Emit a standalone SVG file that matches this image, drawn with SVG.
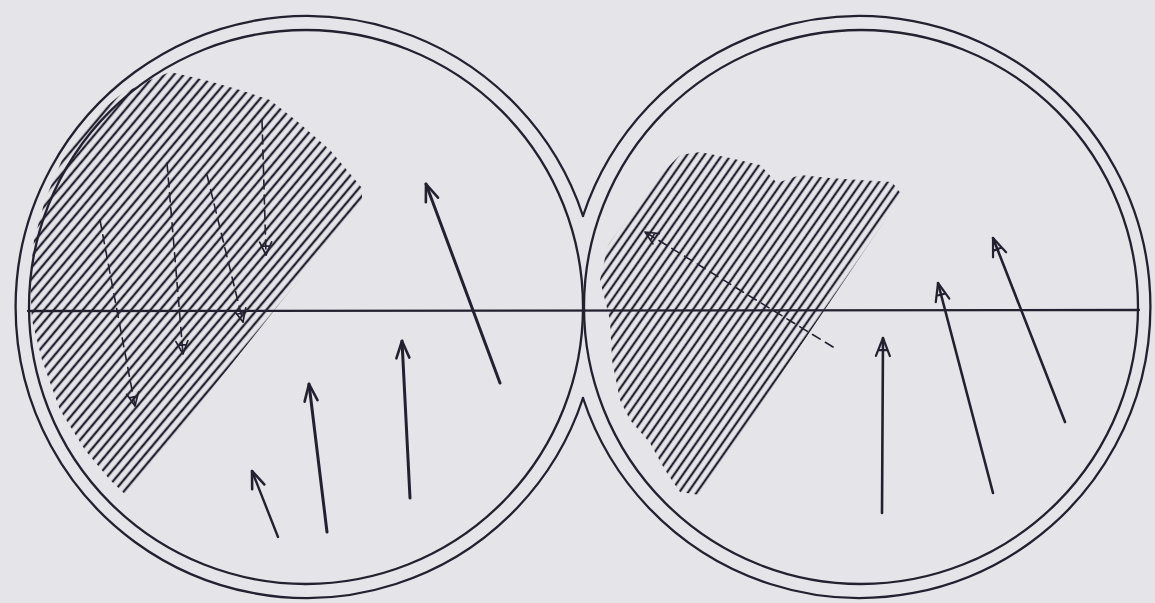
<svg xmlns="http://www.w3.org/2000/svg" width="1155" height="603" viewBox="0 0 1155 603">
<style>
.ink{stroke:#23212f;fill:none;stroke-linecap:round;stroke-linejoin:round}
.ring{stroke-width:2.3}
.ray{stroke-width:3}
.dash{stroke-width:1.6;stroke-dasharray:9 6}
</style>
<defs>
<pattern id="hatchL" patternUnits="userSpaceOnUse" x="0" y="0" width="1200" height="7.4" patternTransform="rotate(-50)">
<line x1="-10" y1="3.7" x2="1210" y2="3.7" stroke="#23212f" stroke-width="2.4"/>
</pattern>
<pattern id="hatchR" patternUnits="userSpaceOnUse" x="0" y="0" width="1200" height="7.2" patternTransform="rotate(-55)">
<line x1="-10" y1="3.6" x2="1210" y2="3.6" stroke="#23212f" stroke-width="2.2"/>
</pattern>
<marker id="hv" markerUnits="userSpaceOnUse" orient="auto" markerWidth="30" markerHeight="30" refX="0" refY="0" viewBox="-20 -10 30 20" overflow="visible">
<path d="M-17 -6.5 L0 0 L-17 6.5" stroke="#23212f" stroke-width="2.6" fill="none" stroke-linecap="round" stroke-linejoin="round"/>
</marker>
<marker id="ha" markerUnits="userSpaceOnUse" orient="auto" markerWidth="30" markerHeight="30" refX="0" refY="0" viewBox="-20 -10 30 20" overflow="visible">
<path d="M-18 -7 L0 0 L-18 7 M-12 -4.6 L-12 4.6" stroke="#23212f" stroke-width="2.2" fill="none" stroke-linecap="round" stroke-linejoin="round"/>
</marker>
<marker id="hd" markerUnits="userSpaceOnUse" orient="auto" markerWidth="30" markerHeight="30" refX="0" refY="0" viewBox="-20 -10 30 20" overflow="visible">
<path d="M-13 -6 L0 0 L-13 6 M-9 -4.2 L-9 4.2" stroke="#23212f" stroke-width="1.7" fill="none" stroke-linecap="round" stroke-linejoin="round"/>
</marker>
<clipPath id="clipL">
<polygon points="170,72 205,80 240,90 270,100 298,122 330,150 362,188 362,200 127,496 110,480 85,450 60,410 42,360 32,320 30,280 34,240 45,200 62,160 90,120 120,95 150,80"/>
</clipPath>
<clipPath id="clipR">
<polygon points="680,155 700,152 730,158 760,165 777,183 800,175 830,178 860,180 892,182 902,195 700,495 680,492 665,470 650,443 630,420 620,400 612,360 610,320 600,280 608,245 630,215 655,180"/>
</clipPath>
</defs>
<rect width="1155" height="603" fill="#e5e4e9"/>
<g id="hatching">
<rect x="0" y="0" width="600" height="603" fill="url(#hatchL)" clip-path="url(#clipL)"/>
<rect x="580" y="0" width="400" height="603" fill="url(#hatchR)" clip-path="url(#clipR)"/>
</g>
<g id="left-field">
<circle class="ink ring" cx="306" cy="307" r="277"/>
<path class="ink ring" d="M583 216 A291 291 0 1 0 583 398"/>
</g>
<g id="right-field">
<circle class="ink ring" cx="861" cy="307" r="277"/>
<path class="ink ring" d="M583 216 A291 291 0 1 1 583 398"/>
</g>
<g id="axis">
<line class="ink" stroke-width="2.3" x1="28" y1="311" x2="1139" y2="310"/>
</g>
<g id="connectors">
<line class="ink dash" x1="100" y1="220" x2="135" y2="406" marker-end="url(#hd)"/>
<line class="ink dash" x1="167" y1="163" x2="183" y2="354" marker-end="url(#hd)"/>
<line class="ink dash" x1="207" y1="175" x2="243" y2="322" marker-end="url(#hd)"/>
<line class="ink dash" x1="262" y1="120" x2="266" y2="255" marker-end="url(#hd)"/>
<line class="ink ray" x1="500" y1="383" x2="426" y2="184" marker-end="url(#hv)"/>
<line class="ink ray" x1="410" y1="498" x2="402" y2="341" marker-end="url(#hv)"/>
<line class="ink ray" x1="327" y1="532" x2="309" y2="384" marker-end="url(#hv)"/>
<line class="ink" stroke-width="2.4" x1="278" y1="537" x2="252" y2="471" marker-end="url(#hv)"/>
<line class="ink dash" x1="833" y1="347" x2="645" y2="232" marker-end="url(#hd)"/>
<line class="ink" stroke-width="2.6" x1="882" y1="513" x2="883" y2="338" marker-end="url(#ha)"/>
<line class="ink" stroke-width="2.6" x1="993" y1="493" x2="938" y2="283" marker-end="url(#ha)"/>
<line class="ink" stroke-width="2.6" x1="1065" y1="422" x2="993" y2="238" marker-end="url(#ha)"/>
</g>
</svg>
